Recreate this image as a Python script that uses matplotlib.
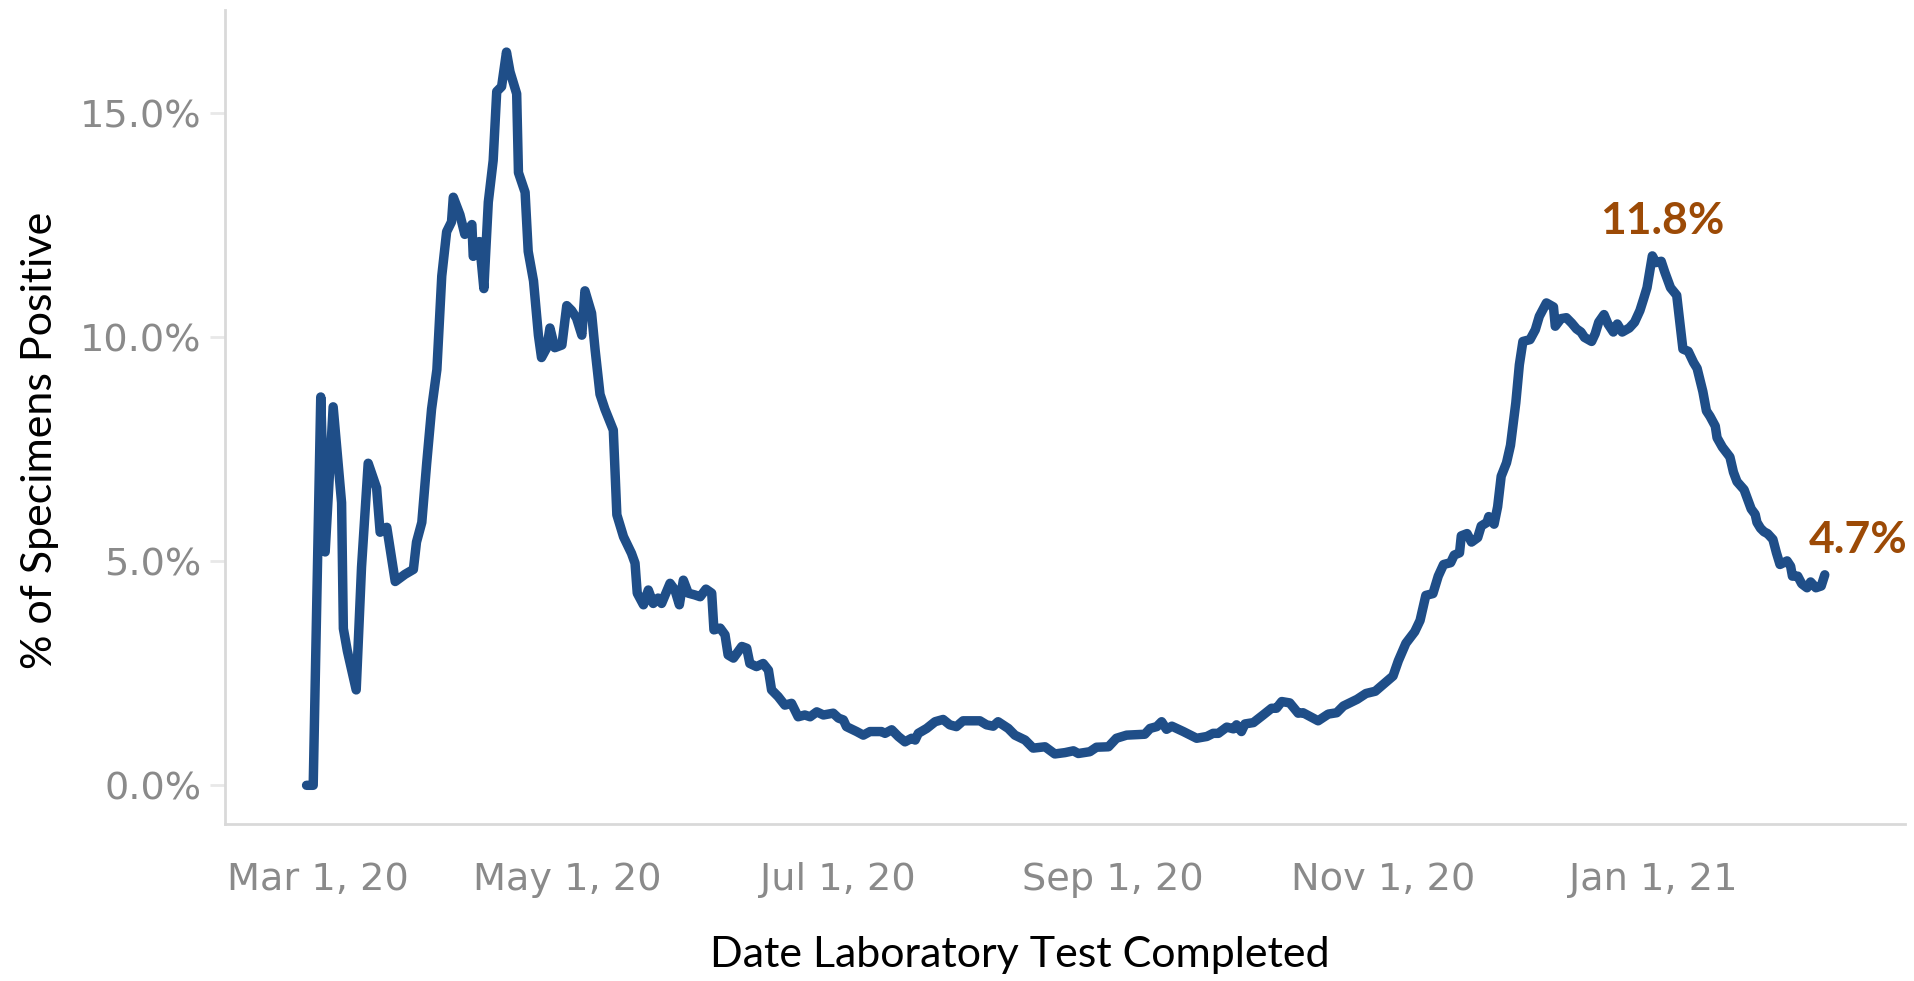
import matplotlib
matplotlib.use('Agg')
import matplotlib.pyplot as plt
import pandas as pd

START = pd.Timestamp('2020-03-01')

# days after Mar 1, 2020 (line vertices)
days = [
    2.2, 3.7, 5.4, 6.4, 8.2, 10.1, 10.5, 11.4, 13.4, 14.6,
    16.1, 18.0, 18.8, 20.3, 22.2, 24.4, 26.3, 27.0, 28.2, 29.3,
    30.4, 31.6, 32.7, 33.8, 34.9, 35.3, 36.8, 37.9, 39.5, 39.8,
    41.2, 42.2, 43.2, 44.3, 45.1, 46.2, 47.3, 48.1, 49.6, 50.0,
    51.5, 52.2, 53.4, 54.5, 55.2, 56.4, 57.1, 58.2, 59.8, 60.9,
    62.0, 63.1, 64.3, 65.0, 66.5, 67.3, 68.4, 69.5,
    71.4, 72.2, 73.7, 75.5, 76.3, 76.8, 78.2, 79.3, 80.4, 81.5,
    82.3, 84.2, 85.3, 86.3, 87.2, 88.3, 89.8, 91.0, 92.3, 93.6,
    94.1, 95.5, 96.6, 97.3, 98.5, 100.4, 101.5, 102.2, 103.7, 105.2,
    106.4, 107.1, 108.6, 110.1, 111.6, 113.1, 114.6, 115.8, 117.3, 118.8,
    121.0, 122.2, 123.3, 124.0, 126.3, 127.8, 129.3, 131.9, 132.7, 134.2,
    135.7, 137.2, 138.7, 139.5, 140.2, 142.1, 144.0, 145.8,
    147.3, 148.8, 150.3, 154.1, 155.6, 157.1, 158.2, 160.5, 162.0, 164.3,
    166.1, 168.8, 171.0, 173.3, 175.2, 176.3, 178.9, 180.4, 183.1, 184.9,
    187.2, 191.3, 192.5, 194.0, 195.1, 196.2, 197.4, 200.0, 203.0, 205.3,
    206.7, 207.9, 209.8, 211.3, 212.0, 213.1, 213.9, 215.8, 218.0, 219.9,
    221.0, 222.2, 224.0, 225.9, 227.0, 230.4, 232.7, 234.6, 236.1,
    239.2, 241.2, 243.3, 245.3, 247.3, 248.5, 250.2, 252.2, 253.4, 254.7,
    256.3, 257.5, 258.7, 260.3, 261.1, 262.3, 262.7, 264.0, 265.0, 266.4,
    267.2, 268.5, 268.9, 270.1, 270.9, 271.7, 272.9, 273.8, 275.0, 275.8,
    276.6, 278.2, 279.4, 280.3, 281.9, 283.5, 283.9, 285.2, 286.4, 287.6,
    288.7, 289.7, 290.5, 292.1, 292.9, 293.7, 294.9, 295.8, 297.0, 297.9,
    299.0, 300.6, 301.8, 303.0, 303.8, 304.6, 305.4, 305.8, 306.6, 307.8,
    308.6, 309.9, 311.3, 311.9, 312.7, 313.9, 315.1, 315.9, 317.2, 318.0,
    318.8, 320.0, 320.4, 321.6, 323.3, 324.1, 324.9, 326.5, 328.1, 329.0,
    329.4, 330.2, 331.0, 331.8, 333.0, 333.8, 334.6, 336.2, 337.0, 337.4,
    338.6, 339.5, 340.7, 341.5, 342.7, 343.9, 344.7,
]

# % of specimens positive
pct_positive = [
    0.0, 0.0, 8.67, 5.21, 8.45, 6.31, 3.50, 3.00, 2.13, 4.87,
    7.19, 6.64, 5.65, 5.76, 4.55, 4.71, 4.82, 5.43, 5.87, 7.19,
    8.40, 9.28, 11.37, 12.36, 12.58, 13.13, 12.74, 12.30, 12.52, 11.81,
    12.14, 11.09, 13.02, 13.95, 15.49, 15.60, 16.37, 15.93, 15.44, 13.68,
    13.24, 11.92, 11.26, 10.05, 9.55, 9.77, 10.21, 9.77, 9.83, 10.71,
    10.60, 10.43, 10.05, 11.04, 10.54, 9.72, 8.73, 8.40,
    7.93, 6.04, 5.55, 5.18, 4.96, 4.29, 4.03, 4.36, 4.06, 4.18,
    4.06, 4.51, 4.36, 4.03, 4.58, 4.29, 4.25, 4.21, 4.38, 4.29,
    3.47, 3.51, 3.36, 2.91, 2.84, 3.10, 3.06, 2.72, 2.65, 2.72,
    2.57, 2.13, 1.98, 1.79, 1.83, 1.53, 1.57, 1.53, 1.64, 1.57,
    1.61, 1.50, 1.46, 1.31, 1.20, 1.12, 1.20, 1.20, 1.16, 1.24,
    1.09, 0.97, 1.05, 1.01, 1.16, 1.27, 1.42, 1.47,
    1.35, 1.31, 1.44, 1.44, 1.35, 1.32, 1.42, 1.27, 1.12, 1.01,
    0.83, 0.86, 0.70, 0.73, 0.77, 0.71, 0.75, 0.85, 0.86, 1.05,
    1.12, 1.14, 1.27, 1.31, 1.42, 1.25, 1.32, 1.20, 1.05, 1.09,
    1.16, 1.16, 1.30, 1.26, 1.35, 1.20, 1.37, 1.40, 1.57, 1.72,
    1.72, 1.87, 1.84, 1.61, 1.62, 1.44, 1.59, 1.62, 1.77,
    1.92, 2.05, 2.10, 2.27, 2.44, 2.78, 3.17, 3.43, 3.68, 4.24,
    4.28, 4.67, 4.93, 4.97, 5.14, 5.19, 5.57, 5.62, 5.43, 5.53,
    5.79, 5.87, 6.00, 5.83, 6.22, 6.90, 7.20, 7.59, 8.54, 9.39,
    9.91, 9.95, 10.17, 10.47, 10.77, 10.68, 10.25, 10.42, 10.44, 10.32,
    10.19, 10.12, 10.00, 9.91, 10.08, 10.34, 10.51, 10.30, 10.12, 10.30,
    10.12, 10.21, 10.34, 10.60, 10.85, 11.11, 11.59, 11.82, 11.67, 11.70,
    11.46, 11.11, 10.94, 10.42, 9.74, 9.69, 9.44, 9.31, 8.79, 8.36,
    8.24, 8.02, 7.76, 7.55, 7.33, 6.99, 6.78, 6.60, 6.17, 6.05,
    5.87, 5.74, 5.66, 5.62, 5.49, 5.19, 4.93, 5.01, 4.89, 4.67,
    4.67, 4.50, 4.41, 4.54, 4.41, 4.45, 4.70,
]

tick_dates = ['2020-03-01', '2020-05-01', '2020-07-01', '2020-09-01',
              '2020-11-01', '2021-01-01']
tick_labels = ['Mar 1, 20', 'May 1, 20', 'Jul 1, 20', 'Sep 1, 20',
               'Nov 1, 20', 'Jan 1, 21']
y_ticks = [0, 5, 10, 15]

LINE = '#1f4e88'
NOTE = '#9c4a06'
GRAY = '#8a8a8a'

dates = START + pd.to_timedelta(days, unit='D')

W, H = 1915, 981
fig = plt.figure(figsize=(W / 100, H / 100), dpi=100)
ax = fig.add_axes([225 / W, 1 - 824 / H, 1680 / W, 814 / H])

ax.plot(dates, pct_positive, color=LINE, lw=6.8,
        solid_joinstyle='round', solid_capstyle='round')

ax.set_xlim(START + pd.Timedelta(days=-16.2), START + pd.Timedelta(days=362.8))
ax.set_ylim(-0.864, 17.31)

ax.set_yticks(y_ticks)
ax.set_yticklabels([f'{v:.1f}%' for v in y_ticks])
ax.set_xticks(pd.to_datetime(tick_dates))
ax.set_xticklabels([''] + tick_labels[1:])

ax.tick_params(axis='y', length=11, width=2, color='#e8e8e8', pad=6,
               labelsize=27.5, labelcolor=GRAY)
ax.tick_params(axis='x', length=0, pad=27, labelsize=27.5, labelcolor=GRAY)
for lab in ax.get_xticklabels() + ax.get_yticklabels():
    lab.set_family('DejaVu Sans')

# first date label is pushed against the left edge, as in the original
ax.text(0.001, -38 / 814, tick_labels[0],
        transform=ax.transAxes, ha='left', va='top', fontsize=27.5,
        color=GRAY, family='DejaVu Sans')

for side in ['top', 'right']:
    ax.spines[side].set_visible(False)
for side in ['left', 'bottom']:
    ax.spines[side].set_color('#d9d9d9')
    ax.spines[side].set_linewidth(2)

fig.text(40 / W, 1 - 440 / H, '% of Specimens Positive', rotation=90,
         ha='center', va='center', fontsize=31, family='Lato', color='black')
fig.text(1020 / W, 1 - 955 / H, 'Date Laboratory Test Completed',
         ha='center', va='center', fontsize=31, family='Lato', color='black')

# peak of the second wave and the latest value
late = [i for i, d in enumerate(days) if d > 250]
i_peak = max(late, key=lambda i: pct_positive[i])
i_last = len(days) - 1
ax.annotate(f'{pct_positive[i_peak]:.1f}%', (dates[i_peak], pct_positive[i_peak]),
            xytext=(7, 25), textcoords='offset points', ha='center', va='center',
            fontsize=32, fontweight='bold', family='Lato', color=NOTE)
ax.annotate(f'{pct_positive[i_last]:.1f}%', (dates[i_last], pct_positive[i_last]),
            xytext=(24, 25), textcoords='offset points', ha='center', va='center',
            fontsize=32, fontweight='bold', family='Lato', color=NOTE)

fig.savefig('out.png', dpi=100)
